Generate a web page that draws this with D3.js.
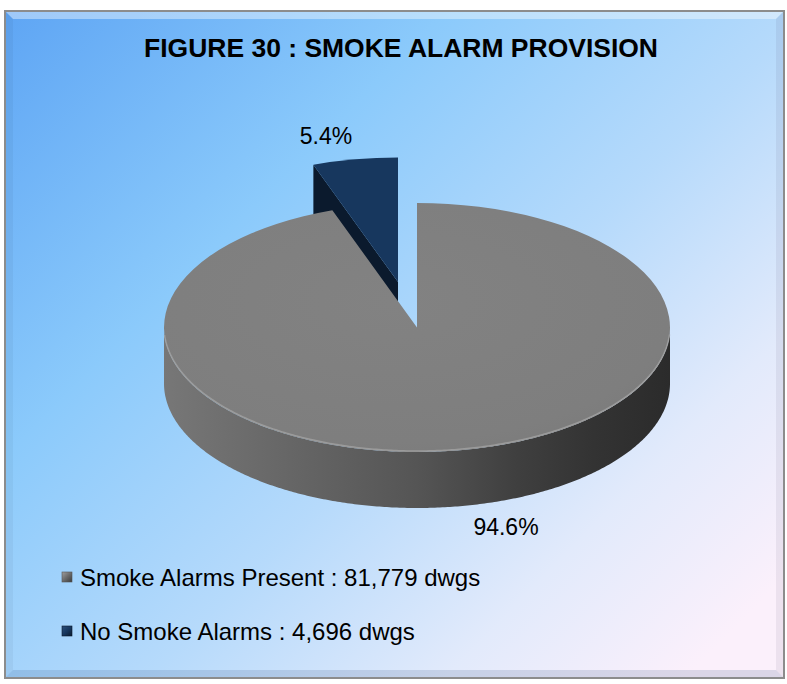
<!DOCTYPE html>
<html>
<head>
<meta charset="utf-8">
<script src="https://cdn.jsdelivr.net/npm/d3@7"></script>
<style>
  html, body { margin: 0; padding: 0; background: #ffffff; }
  svg { display: block; font-family: "Liberation Sans", Arial, sans-serif; }
</style>
</head>
<body>
<svg id="chart" width="787" height="684"></svg>
<script>
/*** DATA ***/
let categories = ["Smoke Alarms Present", "No Smoke Alarms"];
let dwellings  = [81779, 4696];
let colours    = ["#7f7f7f", "#17375e"];
let chartTitle = "FIGURE 30 : SMOKE ALARM PROVISION";

/*** LAYOUT ***/
let svg = d3.select("#chart");
let frame = {x: 5, y: 11, w: 779, h: 667};
// explode is the shift of the small slice, as a share of rx / ry
let pie3d = {cx: 417, cy: 327.5, rx: 253, ry: 124.5, depth: 56, explode: [-0.075, -0.365]};

let total = d3.sum(dwellings);
let pct = d3.format(".1%");
let fmt = d3.format(",");

let data = categories.map((c, i) => ({name: c, value: dwellings[i], colour: colours[i]}));
let arcs = d3.pie().sort(null).value((d) => d.value)(data);

// projection of a pie angle (0 = 12 o'clock, clockwise) on to the tilted ellipse
let ex = (a, ox) => pie3d.cx + (ox || 0) + pie3d.rx * Math.sin(a);
let ey = (a, oy) => pie3d.cy + (oy || 0) - pie3d.ry * Math.cos(a);

function offsetFor(d) {
    if (d.index !== 1) return [0, 0];
    return [pie3d.explode[0] * pie3d.rx, pie3d.explode[1] * pie3d.ry];
}

/*** DEFS ***/
let defs = svg.append("defs");

let bg = defs.append("linearGradient").attr("id", "bg")
    .attr("x1", "0").attr("y1", "0").attr("x2", "1").attr("y2", "0.85");
[[0, "#5ea5f4"], [0.33, "#8bcafb"], [0.6, "#b6dafb"], [0.82, "#e2eafb"], [1, "#fbf0fb"]]
    .forEach((s) => bg.append("stop").attr("offset", s[0]).attr("stop-color", s[1]));

let side = defs.append("linearGradient").attr("id", "side")
    .attr("gradientUnits", "userSpaceOnUse")
    .attr("x1", pie3d.cx - pie3d.rx).attr("y1", 0)
    .attr("x2", pie3d.cx + pie3d.rx).attr("y2", 0);
[[0, "#777777"], [0.25, "#666666"], [0.5, "#555555"], [0.7, "#3f3f3f"], [0.85, "#333333"], [1, "#2b2b2b"]]
    .forEach((s) => side.append("stop").attr("offset", s[0]).attr("stop-color", s[1]));

let topG = defs.append("radialGradient").attr("id", "topface")
    .attr("cx", "0.45").attr("cy", "0.4").attr("r", "0.7");
[[0, "#828282"], [0.8, "#7e7e7e"], [1, "#7a7a7a"]]
    .forEach((s) => topG.append("stop").attr("offset", s[0]).attr("stop-color", s[1]));

let mk = defs.append("linearGradient").attr("id", "mkgrey")
    .attr("x1", "0").attr("y1", "0").attr("x2", "1").attr("y2", "1");
[[0, "#a0a0a0"], [0.5, "#6a6a6a"], [1, "#3a3a3a"]]
    .forEach((s) => mk.append("stop").attr("offset", s[0]).attr("stop-color", s[1]));

let mkb = defs.append("linearGradient").attr("id", "mkblue")
    .attr("x1", "0").attr("y1", "0").attr("x2", "1").attr("y2", "1");
[[0, "#2c4f7c"], [0.5, "#17375e"], [1, "#0b1a2d"]]
    .forEach((s) => mkb.append("stop").attr("offset", s[0]).attr("stop-color", s[1]));

/*** BACKGROUND AND FRAME ***/
function render_frame() {
    svg.append("rect")
        .attr("x", frame.x).attr("y", frame.y)
        .attr("width", frame.w).attr("height", frame.h)
        .attr("fill", "url(#bg)");

    // bevel bands round the inside of the frame
    let b = 8, x0 = frame.x, y0 = frame.y, x1 = frame.x + frame.w, y1 = frame.y + frame.h;
    let bands = [
        {pts: [[x0, y0], [x1, y0], [x1 - b, y0 + b], [x0 + b, y0 + b]], fill: "#ffffff", op: 0.4},
        {pts: [[x0, y0], [x0 + b, y0 + b], [x0 + b, y1 - b], [x0, y1]], fill: "#000000", op: 0.04},
        {pts: [[x0, y1], [x0 + b, y1 - b], [x1 - b, y1 - b], [x1, y1]], fill: "#1a3a70", op: 0.14},
        {pts: [[x1, y0], [x1, y1], [x1 - b, y1 - b], [x1 - b, y0 + b]], fill: "#302040", op: 0.07}
    ];
    svg.selectAll("path.bevel").data(bands).enter()
        .append("path").classed("bevel", true)
        .attr("d", (d) => "M" + d.pts.join("L") + "Z")
        .attr("fill", (d) => d.fill)
        .attr("fill-opacity", (d) => d.op);

    svg.append("rect")
        .attr("x", frame.x).attr("y", frame.y)
        .attr("width", frame.w).attr("height", frame.h)
        .attr("fill", "none")
        .attr("stroke", "#8c8c8c")
        .attr("stroke-width", 2);
}

/*** PIE ***/
function render_pie() {
    let g = svg.append("g").classed("pie", true);
    let line = d3.line();

    // back slice (exploded) first: its cut face, then its top
    arcs.slice().reverse().forEach((d) => {
        let [ox, oy] = offsetFor(d);
        let a0 = d.startAngle, a1 = d.endAngle;

        // visible outer wall: front half of the ellipse
        let w0 = Math.max(a0, Math.PI / 2), w1 = Math.min(a1, 3 * Math.PI / 2);
        if (w1 > w0) {
            let topEdge = d3.range(w0, w1, 0.01).concat([w1]).map((a) => [ex(a, ox), ey(a, oy)]);
            let botEdge = topEdge.map((p) => [p[0], p[1] + pie3d.depth]).reverse();
            g.append("path")
                .attr("d", line(topEdge.concat(botEdge)) + "Z")
                .attr("fill", d.index === 0 ? "url(#side)" : d3.color(d.data.colour).darker(1));
        }

        // cut face at the start angle of the exploded slice
        if (d.index === 1) {
            let apex = [pie3d.cx + ox, pie3d.cy + oy];
            let rim = [ex(a0, ox), ey(a0, oy)];
            g.append("path")
                .attr("d", line([apex, rim, [rim[0], rim[1] + pie3d.depth], [apex[0], apex[1] + pie3d.depth]]) + "Z")
                .attr("fill", "#0b1a2d");
        }

        // top face
        let arc = d3.arc().innerRadius(0).outerRadius(pie3d.rx);
        g.append("path")
            .attr("transform", `translate(${pie3d.cx + ox}, ${pie3d.cy + oy}) scale(1, ${pie3d.ry / pie3d.rx})`)
            .attr("d", arc(d))
            .attr("fill", d.index === 0 ? "url(#topface)" : d.data.colour);

        // soft highlight along the front rim of the big slice
        if (d.index === 0) {
            let rimPts = d3.range(Math.PI * 0.52, Math.PI * 1.48, 0.01).map((a) => [ex(a, ox), ey(a, oy) - 1]);
            g.append("path")
                .attr("d", line(rimPts))
                .attr("fill", "none")
                .attr("stroke", "#a8a8a8")
                .attr("stroke-opacity", 0.7)
                .attr("stroke-width", 1.5);
        }
    });
}

/*** LABELS ***/
function render_labels() {
    // label anchors beside each slice
    let labelPos = [[506, 535], [326, 144]];
    svg.selectAll("text.pct").data(arcs).enter()
        .append("text").classed("pct", true)
        .attr("x", (d) => labelPos[d.index][0])
        .attr("y", (d) => labelPos[d.index][1])
        .attr("text-anchor", "middle")
        .attr("font-size", 23)
        .attr("fill", "#000")
        .text((d) => pct(d.value / total));
}

function render_title() {
    svg.append("text")
        .attr("x", 401)
        .attr("y", 57)
        .attr("text-anchor", "middle")
        .attr("font-size", 26)
        .attr("font-weight", "bold")
        .attr("textLength", 514)
        .attr("lengthAdjust", "spacingAndGlyphs")
        .attr("fill", "#000")
        .text(chartTitle);
}

function render_legend() {
    let items = svg.selectAll("g.legend").data(data).enter()
        .append("g").classed("legend", true)
        .attr("transform", (d, i) => `translate(62, ${586 + i * 54})`);

    items.append("rect")
        .attr("x", 0).attr("y", -14)
        .attr("width", 10).attr("height", 10)
        .attr("fill", (d, i) => i === 0 ? "url(#mkgrey)" : "url(#mkblue)")
        .attr("stroke", (d, i) => i === 0 ? "#555" : "#0b1a2d")
        .attr("stroke-width", 0.6);

    items.append("text")
        .attr("x", 18).attr("y", 0)
        .attr("font-size", 24)
        .attr("fill", "#000")
        .text((d) => `${d.name} : ${fmt(d.value)} dwgs`);
}

render_frame();
render_title();
render_pie();
render_labels();
render_legend();
</script>
</body>
</html>
